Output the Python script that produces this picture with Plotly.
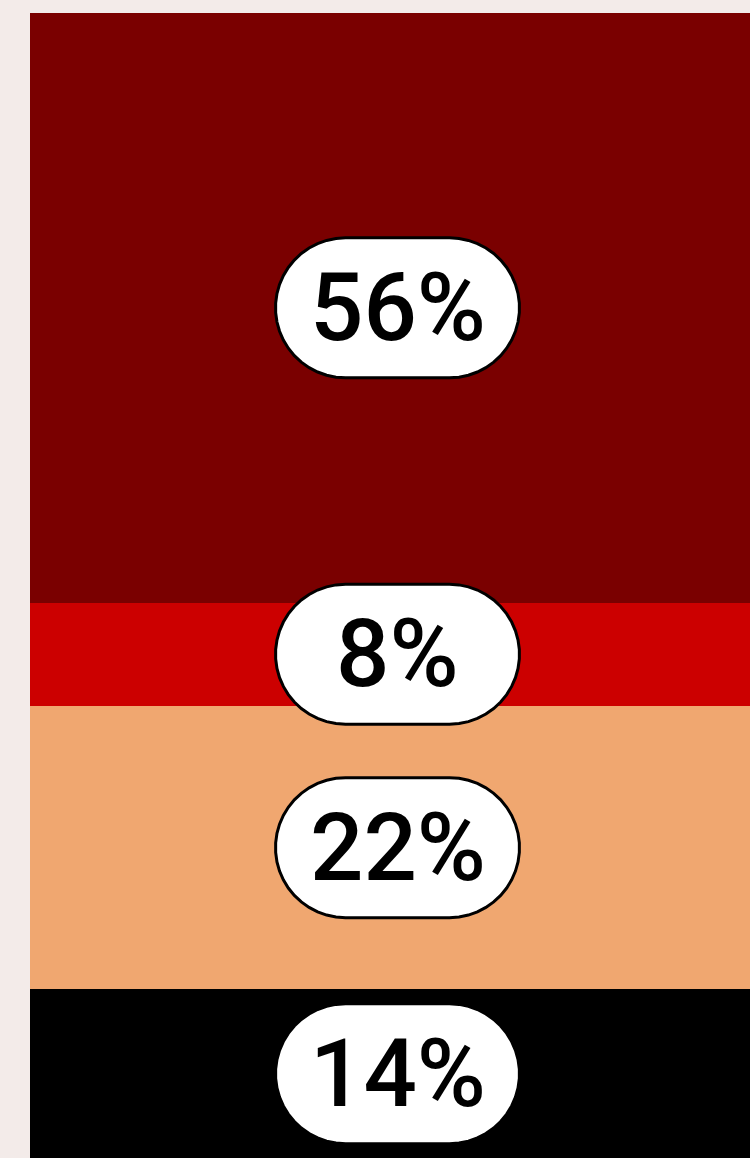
import numpy as np
import plotly.graph_objects as go

# Stacked shares, listed bottom to top
segments = ["Black", "Peach", "Red", "Dark red"]
shares = [14, 22, 8, 56]
labels = ["14%", "22%", "8%", "56%"]
colors = ["#000000", "#f0a770", "#cc0000", "#7a0000"]

# Visible window of the value axis
y_range = [0.93, 89.73]
x_range = [-0.5, 0.4796]

fig = go.Figure()
for name, val, col in zip(segments, shares, colors):
    fig.add_trace(go.Bar(
        x=[0], y=[val], name=name, width=1,
        marker=dict(color=col, line=dict(width=0)),
        hoverinfo="skip", showlegend=False,
    ))


def pill_path(w, h, n=24):
    """Closed stadium outline in pixels, centred on the anchor."""
    r = h / 2
    half = w / 2 - r
    pts = []
    for t in np.linspace(-np.pi / 2, np.pi / 2, n):
        pts.append((half + r * np.cos(t), r * np.sin(t)))
    for t in np.linspace(np.pi / 2, 3 * np.pi / 2, n):
        pts.append((-half + r * np.cos(t), r * np.sin(t)))
    d = "M " + " L ".join(f"{px:.2f},{py:.2f}" for px, py in pts) + " Z"
    return d


pill = pill_path(244, 140)
base = 0
for val, lab in zip(shares, labels):
    lo = max(base, y_range[0])
    hi = min(base + val, y_range[1])
    mid = (lo + hi) / 2
    base += val
    fig.add_shape(
        type="path", path=pill,
        xref="x", yref="y", xsizemode="pixel", ysizemode="pixel",
        xanchor=0, yanchor=mid,
        fillcolor="#ffffff", line=dict(color="#000000", width=3),
        layer="above",
    )
    fig.add_annotation(
        x=0, y=mid, xref="x", yref="y", text=lab, showarrow=False,
        xanchor="center", yanchor="middle",
        font=dict(family="Roboto", size=94, color="#000000", weight=500),
    )

fig.update_layout(
    width=750, height=1158,
    barmode="stack",
    margin=dict(l=30, r=0, t=13, b=0, pad=0),
    paper_bgcolor="#f3ebe9",
    plot_bgcolor="#f3ebe9",
    bargap=0,
    xaxis=dict(range=x_range, visible=False, fixedrange=True),
    yaxis=dict(range=y_range, visible=False, fixedrange=True),
)

fig.write_html("out.html", config={"displayModeBar": False})
